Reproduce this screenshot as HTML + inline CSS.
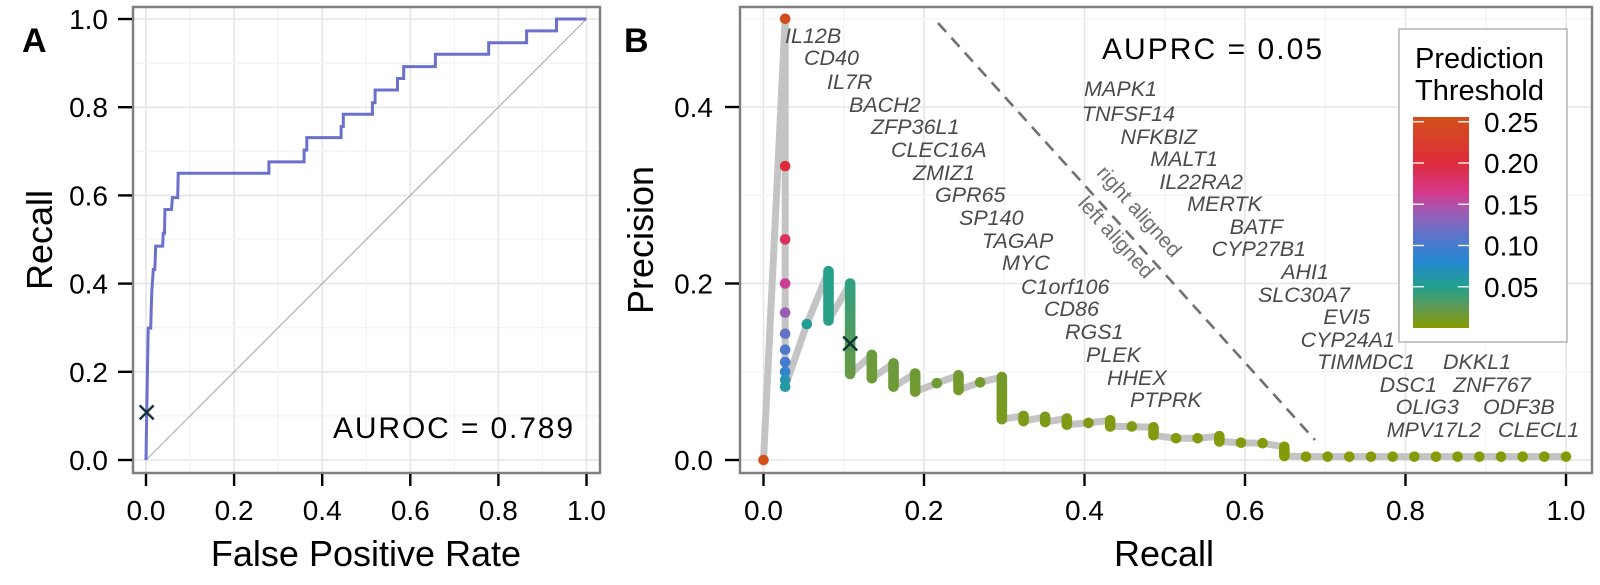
<!DOCTYPE html>
<html><head><meta charset="utf-8"><style>
html,body{margin:0;padding:0;background:#fff}
svg{display:block;font-family:"Liberation Sans",Arial,sans-serif}
</style></head><body>
<svg id="chart" width="1600" height="585" viewBox="0 0 1600 585" xmlns="http://www.w3.org/2000/svg">
<defs><linearGradient id="thrGrad" x1="0" y1="0" x2="0" y2="1"></linearGradient></defs>
</svg>
<script>
// ---------- Panel A data (ROC curve vertices) ----------
const rocFpr = [0,0.0015,0.005,0.0106,0.013,0.0166,0.020,0.022,0.038,0.039,0.042,0.043,0.058,0.060,0.072,0.073,0.279,0.279,0.359,0.359,0.365,0.365,0.443,0.443,0.448,0.448,0.514,0.514,0.520,0.520,0.571,0.571,0.585,0.585,0.657,0.657,0.778,0.778,0.864,0.864,0.932,0.932,1];
const rocTpr = [0,0.106,0.299,0.299,0.378,0.432,0.432,0.485,0.485,0.514,0.514,0.568,0.568,0.595,0.595,0.650,0.650,0.676,0.676,0.703,0.703,0.731,0.731,0.756,0.756,0.784,0.784,0.810,0.810,0.839,0.839,0.865,0.865,0.892,0.892,0.920,0.920,0.946,0.946,0.973,0.973,1.0,1.0];
const rocMarker = [0.0015, 0.108];
const aTicks = [0,0.2,0.4,0.6,0.8,1.0];
const aTickLabels = ["0.0","0.2","0.4","0.6","0.8","1.0"];
// ---------- Panel B data ----------
const firstRecall = 0.027;
const firstPrec = [0.5,0.333,0.25,0.2,0.167,0.143,0.125,0.111,0.1,0.091,0.083];
const firstThr  = [0.25,0.2,0.185,0.16,0.14,0.115,0.105,0.1,0.09,0.065,0.06];
const originThr = 0.26;
const grpRecall = [0.054,0.081,0.108,0.135,0.162,0.189,0.216,0.243,0.270,0.297,0.324,0.351,0.378,0.405,0.432,0.459,0.486,0.514,0.541,0.568,0.595,0.622,0.649,0.676,0.703,0.730,0.757,0.784,0.811,0.838,0.865,0.892,0.919,0.946,0.973,1.0];
const grpTop = [0.154,0.214,0.200,0.119,0.1095,0.098,0.087,0.096,0.088,0.094,0.050,0.049,0.047,0.042,0.045,0.038,0.037,0.0246,0.0246,0.027,0.0196,0.019,0.015,0.0038,0.0038,0.0038,0.0038,0.0038,0.0038,0.0038,0.0038,0.0038,0.0038,0.0038,0.0038,0.0038];
const grpBot = [0.154,0.158,0.0975,0.0926,0.0831,0.0774,0.087,0.0793,0.088,0.0462,0.044,0.043,0.040,0.042,0.038,0.038,0.028,0.0246,0.0246,0.021,0.0196,0.019,0.0045,0.0038,0.0038,0.0038,0.0038,0.0038,0.0038,0.0038,0.0038,0.0038,0.0038,0.0038,0.0038,0.0038];
const grpThrTop = [0.055,0.05,0.045,0.018,0.018,0.016,0.015,0.014,0.013,0.012,0.008,0.008,0.007,0.007,0.006,0.006,0.005,0.004,0.004,0.004,0.003,0.003,0.003,0.002,0.002,0.002,0.002,0.002,0.002,0.002,0.002,0.002,0.002,0.002,0.002,0.002];
const grpThrBot = [0.055,0.047,0.02,0.016,0.016,0.014,0.015,0.012,0.013,0.009,0.007,0.007,0.006,0.007,0.005,0.006,0.004,0.004,0.004,0.003,0.003,0.003,0.002,0.002,0.002,0.002,0.002,0.002,0.002,0.002,0.002,0.002,0.002,0.002,0.002,0.002];
const prMarker = [0.108, 0.132];
const bXTicks = [0,0.2,0.4,0.6,0.8,1.0];
const bXTickLabels = ["0.0","0.2","0.4","0.6","0.8","1.0"];
const bYTicks = [0,0.2,0.4];
const bYTickLabels = ["0.0","0.2","0.4"];
const legendTicks = [0.25,0.20,0.15,0.10,0.05];
const legendTickLabels = ["0.25","0.20","0.15","0.10","0.05"];
const colorStops = [[0,'#8a9a00'],[0.025,'#5e9a55'],[0.05,'#24a08c'],[0.08,'#2388d2'],[0.11,'#5876cc'],[0.14,'#9c5cb5'],[0.165,'#d6388a'],[0.2,'#de2c3c'],[0.256,'#d2501a']];
// gene labels (annotations): [text, x, y]
const leftGenes = [["IL12B",785,36],["CD40",804,58],["IL7R",827,82],["BACH2",849,105],["ZFP36L1",871,127],["CLEC16A",891,150],["ZMIZ1",913,173],["GPR65",935,195],["SP140",959,218],["TAGAP",982,241],["MYC",1002,263],["C1orf106",1021,287],["CD86",1044,309],["RGS1",1065,332],["PLEK",1086,355],["HHEX",1107,378],["PTPRK",1130,400]];
const rightGenes = [["MAPK1",1157,89],["TNFSF14",1175,114],["NFKBIZ",1197,137],["MALT1",1218,159],["IL22RA2",1243,182],["MERTK",1262,204],["BATF",1283,227],["CYP27B1",1306,249],["AHI1",1329,272],["SLC30A7",1350,295],["EVI5",1370,317],["CYP24A1",1395,340],["TIMMDC1",1415,362],["DSC1",1437,385],["OLIG3",1459,407],["MPV17L2",1481,430]];
const farGenes = [["DKKL1",1443,362],["ZNF767",1453,385],["ODF3B",1483,407],["CLECL1",1498,430]];

const NS = "http://www.w3.org/2000/svg";
const svg = document.getElementById('chart');
const defs = svg.querySelector('defs');
function mk(tag, attrs, parent){ const e=document.createElementNS(NS,tag); for(const k in attrs) e.setAttribute(k,attrs[k]); (parent||svg).appendChild(e); return e; }
function hex(c){return [parseInt(c.slice(1,3),16),parseInt(c.slice(3,5),16),parseInt(c.slice(5,7),16)];}
function colorOf(t){
  if(t<=colorStops[0][0]) return colorStops[0][1];
  for(let i=1;i<colorStops.length;i++){ if(t<=colorStops[i][0]){ const a=colorStops[i-1],b=colorStops[i]; const f=(t-a[0])/(b[0]-a[0]); const ca=hex(a[1]),cb=hex(b[1]); return 'rgb('+ca.map((v,j)=>Math.round(v+(cb[j]-v)*f)).join(',')+')'; } }
  return colorStops[colorStops.length-1][1];
}
const ax = v => 146 + 440.5*v, ay = v => 460 - 441*v;
const bx = v => 763.5 + 802.5*v, by = v => 460 - 882.5*v;

function panel(name, x0,y0,x1,y1){ const r=mk('rect',{x:x0,y:y0,width:x1-x0,height:y1-y0,fill:'#fff'});   return r; }
function gridLine(name,x1,y1,x2,y2,major){ const l=mk('line',{x1:x1,y1:y1,x2:x2,y2:y2,stroke:major?'#e6e6e6':'#f4f4f4','stroke-width':major?1.6:1.4});   }
function txt(name,s,attrs){ const t=mk('text',attrs); t.textContent=s;   return t; }

// ===== Panel A =====
panel('roc-panel-background',133,7,600,473);
for(let i=0;i<=10;i++){ const v=i/10; gridLine('roc-x-grid',ax(v),7,ax(v),473,i%2===0); gridLine('roc-y-grid',133,ay(v),600,ay(v),i%2===0); }
const diag = mk('line',{x1:ax(0),y1:ay(0),x2:ax(1),y2:ay(1),stroke:'#b0b0b0','stroke-width':1.2});


const rocPts = rocFpr.map((f,i)=>ax(f).toFixed(1)+','+ay(rocTpr[i]).toFixed(1)).join(' ');
const roc = mk('polyline',{points:rocPts,fill:'none',stroke:'#6b70cc','stroke-width':3,'stroke-linejoin':'miter'});


function cross(name,cx,cy){ const g=mk('g',{stroke:'#12323a','stroke-width':2.4});   mk('line',{x1:cx-7,y1:cy-7,x2:cx+7,y2:cy+7},g); mk('line',{x1:cx-7,y1:cy+7,x2:cx+7,y2:cy-7},g); }
cross('roc-threshold-marker',ax(rocMarker[0]),ay(rocMarker[1]));
const fa = mk('rect',{x:133,y:7,width:467,height:466,fill:'none',stroke:'#808080','stroke-width':2.5});


aTicks.forEach((v,i)=>{
  const t1=mk('line',{x1:ax(v),y1:474,x2:ax(v),y2:486,stroke:'#000','stroke-width':2.4});  
  txt('roc-x-tick-label',aTickLabels[i],{x:ax(v),y:520,'font-size':28,'text-anchor':'middle'});
  const t2=mk('line',{x1:118,y1:ay(v),x2:132,y2:ay(v),stroke:'#000','stroke-width':2.4});  
  txt('roc-y-tick-label',aTickLabels[i],{x:108,y:ay(v)+10,'font-size':28,'text-anchor':'end'});
});
txt('auroc-annotation','AUROC = 0.789',{x:333,y:438,'font-size':30,textLength:240,lengthAdjust:'spacing'});
txt('roc-x-axis-title','False Positive Rate',{x:366,y:566,'font-size':36,'text-anchor':'middle'});
txt('roc-y-axis-title','Recall',{x:0,y:0,'font-size':36,'text-anchor':'middle',transform:'translate(52,240) rotate(-90)'});
txt('panel-a-label','A',{x:22,y:52,'font-size':34,'font-weight':'bold'});

// ===== Panel B =====
panel('pr-panel-background',740,7,1592,473);
for(let i=0;i<=10;i++){ const v=i/10; gridLine('pr-x-grid',bx(v),7,bx(v),473,i%2===0); }
for(let i=0;i<=5;i++){ const v=i/10; gridLine('pr-y-grid',740,by(v),1592,by(v),i%2===0); }
const path=[[0,0]];
firstPrec.forEach(p=>path.push([firstRecall,p]));
grpRecall.forEach((r,i)=>{ path.push([r,grpTop[i]]); if(grpBot[i]!==grpTop[i]) path.push([r,grpBot[i]]); });
const prLine = mk('polyline',{points:path.map(p=>bx(p[0]).toFixed(1)+','+by(p[1]).toFixed(1)).join(' '),fill:'none',stroke:'#c4c4c4','stroke-width':7,'stroke-linejoin':'round','stroke-linecap':'round'});


const o = mk('circle',{cx:bx(0),cy:by(0),r:5.3,fill:colorOf(originThr)});


firstPrec.forEach((p,i)=>{ const c=mk('circle',{cx:bx(firstRecall),cy:by(p),r:5.3,fill:colorOf(firstThr[i])});   });
grpRecall.forEach((r,i)=>{
  if(grpTop[i]===grpBot[i]){ const c=mk('circle',{cx:bx(r),cy:by(grpTop[i]),r:5.3,fill:colorOf(grpThrTop[i])});   }
  else {
    const gid='cg'+i;
    const lgd=mk('linearGradient',{id:gid,x1:0,y1:by(grpTop[i]),x2:0,y2:by(grpBot[i]),gradientUnits:'userSpaceOnUse'},defs);
    mk('stop',{offset:0,'stop-color':colorOf(grpThrTop[i])},lgd);
    mk('stop',{offset:1,'stop-color':colorOf(grpThrBot[i])},lgd);
    const l=mk('rect',{x:bx(r)-5.3,y:by(grpTop[i])-5.3,width:10.6,height:by(grpBot[i])-by(grpTop[i])+10.6,rx:5.3,ry:5.3,fill:'url(#'+gid+')'});
    
    
  }
});
cross('pr-threshold-marker',bx(prMarker[0]),by(prMarker[1]));
const dash = mk('line',{x1:938,y1:23,x2:1315,y2:440,stroke:'#707070','stroke-width':2.6,'stroke-dasharray':'12 8'});


txt('right-aligned-note','right aligned',{x:0,y:0,'font-size':21,fill:'#707070','text-anchor':'middle',transform:'translate(1134,216) rotate(48)'});
txt('left-aligned-note','left aligned',{x:0,y:0,'font-size':21,fill:'#707070','text-anchor':'middle',transform:'translate(1111,242) rotate(48)'});
leftGenes.forEach(g=>txt('gene-label',g[0],{x:g[1],y:g[2]+7,'font-size':21.5,'font-style':'italic',fill:'#4a4a4a'}));
rightGenes.forEach(g=>txt('gene-label',g[0],{x:g[1],y:g[2]+7,'font-size':21.5,'font-style':'italic',fill:'#4a4a4a','text-anchor':'end'}));
farGenes.forEach(g=>txt('gene-label',g[0],{x:g[1],y:g[2]+7,'font-size':21.5,'font-style':'italic',fill:'#4a4a4a'}));
txt('auprc-annotation','AUPRC = 0.05',{x:1102,y:59,'font-size':30,textLength:220,lengthAdjust:'spacing'});
const lg = mk('rect',{x:1399,y:29,width:168,height:313,fill:'#fff',stroke:'#a8a8a8','stroke-width':1.3});


txt('legend-title','Prediction',{x:1415,y:68,'font-size':29});
txt('legend-title','Threshold',{x:1415,y:100,'font-size':29});
const tTop=0.2558, grad=document.getElementById('thrGrad');
colorStops.slice().reverse().forEach(s=>{ mk('stop',{offset:((tTop-Math.min(s[0],tTop))/tTop).toFixed(3),'stop-color':s[1]},grad); });
const bar = mk('rect',{x:1413,y:117,width:56,height:211,fill:'url(#thrGrad)'});


legendTicks.forEach((t,i)=>{
  const yy = 328 - t*825;
  const a=mk('line',{x1:1413,y1:yy,x2:1424,y2:yy,stroke:'#fff','stroke-width':1.3});  
  const b=mk('line',{x1:1458,y1:yy,x2:1469,y2:yy,stroke:'#fff','stroke-width':1.3});  
  txt('legend-tick-label',legendTickLabels[i],{x:1484,y:yy+10,'font-size':28});
});
const fb = mk('rect',{x:740,y:7,width:852,height:466,fill:'none',stroke:'#808080','stroke-width':2.5});


bXTicks.forEach((v,i)=>{
  const t1=mk('line',{x1:bx(v),y1:474,x2:bx(v),y2:486,stroke:'#000','stroke-width':2.4});  
  txt('pr-x-tick-label',bXTickLabels[i],{x:bx(v),y:520,'font-size':28,'text-anchor':'middle'});
});
bYTicks.forEach((v,i)=>{
  const t2=mk('line',{x1:725,y1:by(v),x2:739,y2:by(v),stroke:'#000','stroke-width':2.4});  
  txt('pr-y-tick-label',bYTickLabels[i],{x:713,y:by(v)+10,'font-size':28,'text-anchor':'end'});
});
txt('pr-x-axis-title','Recall',{x:1164,y:566,'font-size':36,'text-anchor':'middle'});
txt('pr-y-axis-title','Precision',{x:0,y:0,'font-size':36,'text-anchor':'middle',transform:'translate(653,240) rotate(-90)'});
txt('panel-b-label','B',{x:624,y:52,'font-size':34,'font-weight':'bold'});
</script>
</body></html>
